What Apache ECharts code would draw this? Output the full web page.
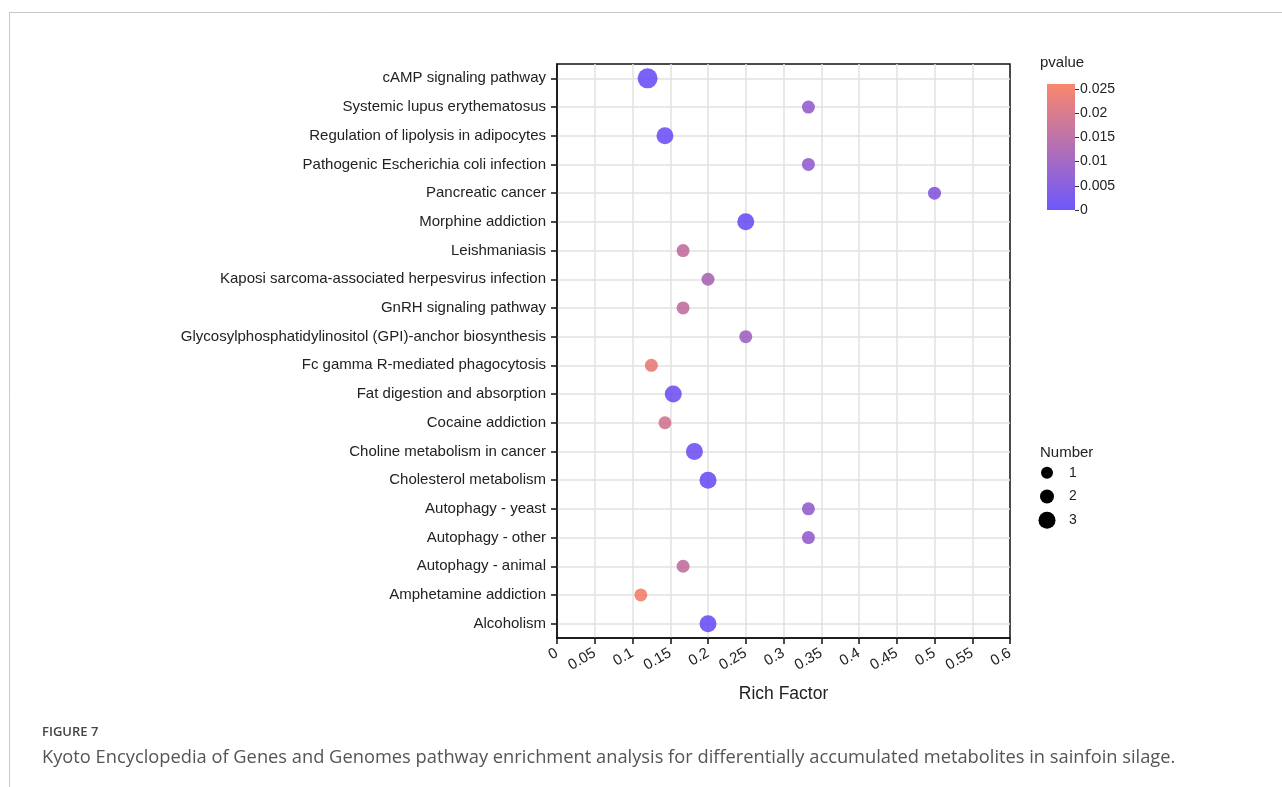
<!DOCTYPE html>
<html>
<head>
<meta charset="utf-8">
<script src="https://cdn.jsdelivr.net/npm/echarts@6/dist/echarts.min.js"></script>
<style>
html,body{margin:0;padding:0;background:#fff;}
#chart{width:1282px;height:787px;}
</style>
</head>
<body>
<div id="chart"></div>
<script>
// ---- data ----
const categories = [
  'cAMP signaling pathway',
  'Systemic lupus erythematosus',
  'Regulation of lipolysis in adipocytes',
  'Pathogenic Escherichia coli infection',
  'Pancreatic cancer',
  'Morphine addiction',
  'Leishmaniasis',
  'Kaposi sarcoma-associated herpesvirus infection',
  'GnRH signaling pathway',
  'Glycosylphosphatidylinositol (GPI)-anchor biosynthesis',
  'Fc gamma R-mediated phagocytosis',
  'Fat digestion and absorption',
  'Cocaine addiction',
  'Choline metabolism in cancer',
  'Cholesterol metabolism',
  'Autophagy - yeast',
  'Autophagy - other',
  'Autophagy - animal',
  'Amphetamine addiction',
  'Alcoholism'
];
const richFactor = [0.12, 0.333, 0.143, 0.333, 0.5, 0.25, 0.167, 0.2, 0.167, 0.25,
                    0.125, 0.154, 0.143, 0.182, 0.2, 0.333, 0.333, 0.167, 0.111, 0.2];
const numberVals = [3, 1, 2, 1, 1, 2, 1, 1, 1, 1, 1, 2, 1, 2, 2, 1, 1, 1, 1, 2];
const pvalues = [0.001, 0.008, 0.0015, 0.008, 0.005, 0.001, 0.016, 0.012, 0.016, 0.01,
                 0.023, 0.0015, 0.019, 0.0015, 0.001, 0.008, 0.008, 0.016, 0.025, 0.001];
const pvalueMin = 0;
const pvalueMax = 0.026;
const pvalueTicks = [0, 0.005, 0.01, 0.015, 0.02, 0.025];
const numberLegend = ['1', '2', '3'];
const xMin = 0, xMax = 0.6, xInterval = 0.05;

// ---- styles ----
const lowColor = '#5e45fb';
const highColor = '#f87a5c';
const sizeMap = {1: 13, 2: 17, 3: 20};
const legendSizeMap = {1: 12, 2: 14, 3: 17};
const font = '"Liberation Sans", Arial, sans-serif';

const scatterData = categories.map((c, i) => [richFactor[i], c, numberVals[i], pvalues[i]]);

const chart = echarts.init(document.getElementById('chart'));
chart.setOption({
  backgroundColor: '#fff',
  animation: false,
  textStyle: {fontFamily: font},
  title: [
    {text: 'pvalue', left: 1040, top: 55, padding: 0, textStyle: {fontSize: 15, fontWeight: 'normal', color: '#222', fontFamily: font}},
    {text: 'Number', left: 1040, top: 445, padding: 0, textStyle: {fontSize: 15, fontWeight: 'normal', color: '#222', fontFamily: font}},
    {text: 'FIGURE 7', left: 42, top: 726, padding: 0, textStyle: {fontSize: 13, fontWeight: 600, color: '#444', fontFamily: '"Open Sans", sans-serif'}},
    {text: 'Kyoto Encyclopedia of Genes and Genomes pathway enrichment analysis for differentially accumulated metabolites in sainfoin silage.',
     left: 42, top: 749, padding: 0, textStyle: {fontSize: 18.3, fontWeight: 'normal', color: '#555', fontFamily: '"Open Sans", sans-serif'}}
  ],
  graphic: [
    {type: 'line', shape: {x1: 9, y1: 12.5, x2: 1282, y2: 12.5}, style: {stroke: '#c8c8c8', lineWidth: 1}},
    {type: 'line', shape: {x1: 9.5, y1: 12, x2: 9.5, y2: 787}, style: {stroke: '#c8c8c8', lineWidth: 1}}
  ],
  visualMap: [{
    type: 'continuous', show: false, seriesIndex: 0, dimension: 3,
    min: pvalueMin, max: pvalueMax,
    inRange: {color: [lowColor, highColor]}
  }],
  grid: [
    {left: 557, top: 64, width: 453, height: 574, show: true, borderColor: '#111', borderWidth: 1.5, backgroundColor: 'transparent'},
    {left: 1047, top: 84, width: 28, height: 126},
    {left: 1037, top: 461, width: 20, height: 71}
  ],
  xAxis: [
    {
      gridIndex: 0, type: 'value', min: xMin, max: xMax, interval: xInterval,
      name: 'Rich Factor', nameLocation: 'middle', nameGap: 47,
      nameTextStyle: {fontSize: 17.5, color: '#222'},
      axisLine: {show: true, lineStyle: {color: '#111', width: 1.5}},
      axisTick: {show: true, length: 6, lineStyle: {color: '#111', width: 1.5}},
      axisLabel: {rotate: 30, fontSize: 15, color: '#222', margin: 14},
      splitLine: {show: true, showMinLine: false, showMaxLine: false, lineStyle: {color: '#e2e2e2', width: 1.5}}
    },
    {gridIndex: 1, type: 'category', data: [''], show: false},
    {gridIndex: 2, type: 'value', min: 0, max: 1, show: false}
  ],
  yAxis: [
    {
      gridIndex: 0, type: 'category', data: categories, inverse: true,
      axisLine: {show: true, lineStyle: {color: '#111', width: 1.5}},
      axisTick: {show: true, alignWithLabel: true, length: 6, lineStyle: {color: '#111', width: 1.5}},
      axisLabel: {fontSize: 15, color: '#222', margin: 11},
      splitLine: {show: true, alignWithLabel: true, lineStyle: {color: '#e2e2e2', width: 1.5}}
    },
    {
      gridIndex: 1, type: 'value', min: pvalueMin, max: pvalueMax, position: 'right',
      axisLine: {show: false},
      axisTick: {show: true, length: 4, customValues: pvalueTicks, lineStyle: {color: '#333'}},
      axisLabel: {show: true, customValues: pvalueTicks, fontSize: 14, color: '#222', margin: 5,
                  formatter: v => String(v)},
      splitLine: {show: false}
    },
    {
      gridIndex: 2, type: 'category', data: numberLegend, inverse: true, position: 'right',
      axisLine: {show: false}, axisTick: {show: false},
      axisLabel: {fontSize: 14, color: '#222', margin: 12},
      splitLine: {show: false}
    }
  ],
  series: [
    {
      type: 'scatter', xAxisIndex: 0, yAxisIndex: 0,
      data: scatterData,
      symbolSize: v => sizeMap[v[2]],
      itemStyle: {opacity: 0.85},
      z: 5
    },
    {
      type: 'bar', xAxisIndex: 1, yAxisIndex: 1,
      data: [pvalueMax], barWidth: '100%',
      itemStyle: {
        opacity: 0.9,
        color: {type: 'linear', x: 0, y: 1, x2: 0, y2: 0,
                colorStops: [{offset: 0, color: lowColor}, {offset: 1, color: highColor}]}
      },
      silent: true
    },
    {
      type: 'scatter', xAxisIndex: 2, yAxisIndex: 2,
      data: numberLegend.map(n => [0.5, n]),
      symbolSize: v => legendSizeMap[v[1]],
      itemStyle: {color: '#000', opacity: 1},
      silent: true
    }
  ]
});
</script>
</body>
</html>
